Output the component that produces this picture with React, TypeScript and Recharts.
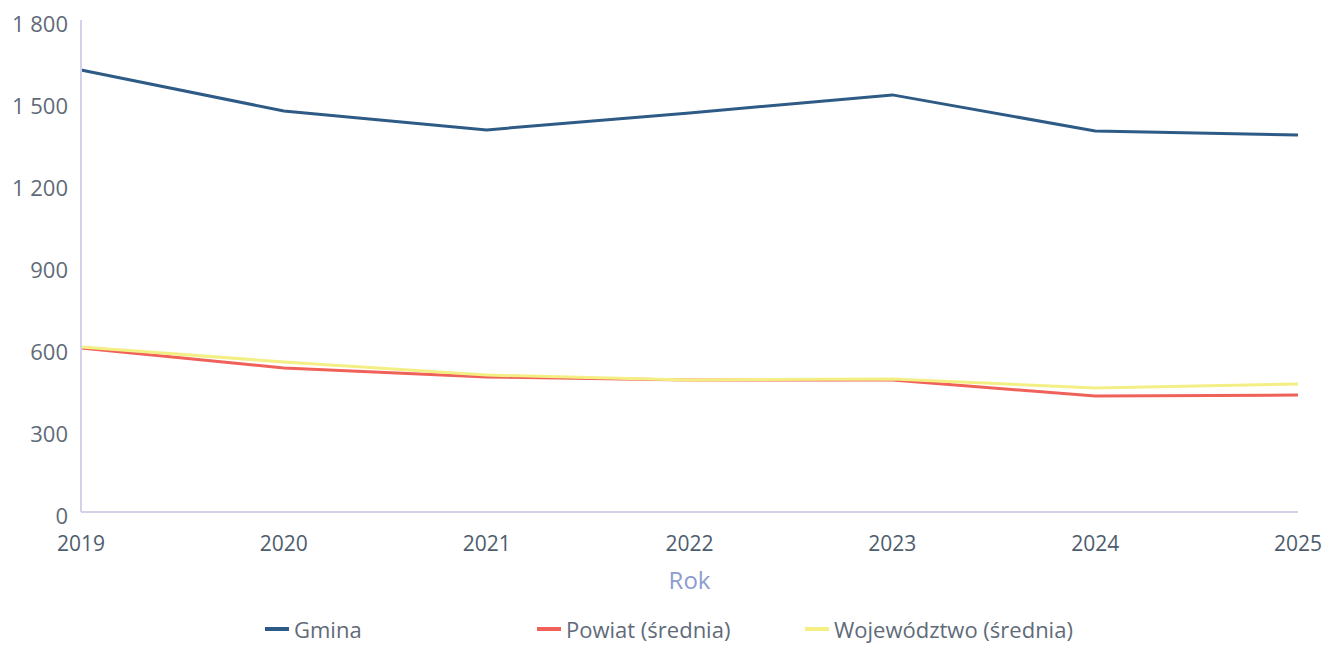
import React from "react";
import { LineChart, Line, XAxis, YAxis, Legend } from "recharts";

const YEARS = ["2019", "2020", "2021", "2022", "2023", "2024", "2025"];
const GMINA = [1617, 1467, 1398, 1460, 1526, 1394, 1379];
const POWIAT = [600, 527, 494, 483, 483, 424, 428];
const WOJEWODZTWO = [604, 549, 501, 483, 487, 454, 468];
const Y_TICKS = [0, 300, 600, 900, 1200, 1500, 1800];

const SERIES = [
  { key: "gmina", name: "Gmina", color: "#2e5b86", x: 265 },
  { key: "powiat", name: "Powiat (średnia)", color: "#ef6159", x: 537 },
  { key: "woj", name: "Województwo (średnia)", color: "#f4ef84", x: 805 },
];

const data = YEARS.map((year, i) => ({
  year,
  gmina: GMINA[i],
  powiat: POWIAT[i],
  woj: WOJEWODZTWO[i],
}));

const FONT = "'Open Sans', 'Noto Sans', sans-serif";
const fmt = (v: number) => String(v).replace(/\B(?=(\d{3})+(?!\d))/g, " ");

function LegendRow() {
  return (
    <div style={{ position: "relative", height: 43, fontFamily: FONT, fontSize: 22, lineHeight: "26px", color: "#5f6b78" }}>
      {SERIES.map((s) => (
        <div key={s.key} style={{ position: "absolute", left: s.x, top: 14, display: "flex", alignItems: "center", whiteSpace: "nowrap" }}>
          <span style={{ width: 24, height: 4, background: s.color, marginRight: 5 }} />
          <span>{s.name}</span>
        </div>
      ))}
    </div>
  );
}

export default function App() {
  return (
    <div style={{ position: "absolute", left: 0, top: 0, background: "#fff" }}>
      <LineChart width={1325} height={645} data={data} margin={{ top: 20, right: 27, left: 0, bottom: 0 }}>
        <XAxis
          dataKey="year"
          tickLine={false}
          axisLine={{ stroke: "#d2d2e8", strokeWidth: 2 }}
          tickMargin={18}
          height={90}
          tick={{ fill: "#4d5d6e", fontSize: 21, fontFamily: FONT }}
          interval={0}
          padding={{ left: 0, right: 0 }}
          label={{ value: "Rok", position: "insideTop", offset: 60, fill: "#8d9bd0", fontSize: 24, fontFamily: FONT }}
        />
        <YAxis
          domain={[0, 1800]}
          ticks={Y_TICKS}
          tickFormatter={fmt}
          tickLine={false}
          axisLine={{ stroke: "#d2d2e8", strokeWidth: 2 }}
          tickMargin={7}
          width={81}
          tick={{ fill: "#5f6b78", fontSize: 22, fontFamily: FONT, dy: 4 }}
        />
        <Legend verticalAlign="bottom" height={43} content={() => <LegendRow />} />
        {SERIES.map((s) => (
          <Line
            key={s.key}
            dataKey={s.key}
            name={s.name}
            stroke={s.color}
            strokeWidth={3}
            dot={false}
            type="linear"
            isAnimationActive={false}
          />
        ))}
      </LineChart>
    </div>
  );
}
